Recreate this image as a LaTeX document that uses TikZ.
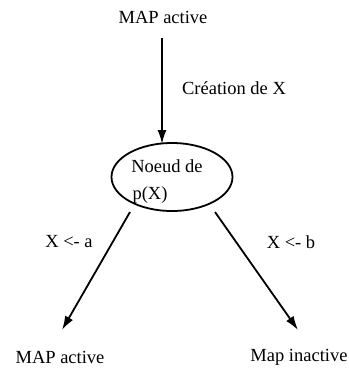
\documentclass[tikz,border=0pt]{standalone}
\usepackage{fontspec}
\setmainfont{Liberation Serif}
\usetikzlibrary{arrows.meta,shapes.geometric}
\begin{document}
\begin{tikzpicture}[x=1pt,y=-1pt,
  lbl/.style={font=\fontsize{18.5}{20}\selectfont, inner sep=0pt},
  arr/.style={line width=1.8pt, -{Latex[length=14pt,width=9pt]}},
  state/.style={draw, line width=1.8pt, ellipse, minimum width=121pt, minimum height=68pt, inner sep=0pt}]
\useasboundingbox (0,0) rectangle (349,368);
\node[lbl] (top) at (163,17) {MAP active};
\node[state] (node) at (172,177) {};
\node[lbl] (ntext1) at (167,166) {Noeud de};
\node[lbl] (ntext2) at (150,195) {p(X)};
\node[lbl] (crea) at (234,88) {Création de X};
\node[lbl] (la) at (69,242) {X <- a};
\node[lbl] (lb) at (291,242) {X <- b};
\node[lbl] (bl) at (60,357) {MAP active};
\node[lbl] (br) at (299,357) {Map inactive};
\coordinate (s0) at (162,38);
\coordinate (t0) at (162,144);
\coordinate (s1) at (130,212);
\coordinate (e1) at (62,330);
\coordinate (s2) at (215,212);
\coordinate (e2) at (298,330);
\draw[arr] (s0) -- (t0);
\draw[arr] (s1) -- (e1);
\draw[arr] (s2) -- (e2);
\end{tikzpicture}
\end{document}
